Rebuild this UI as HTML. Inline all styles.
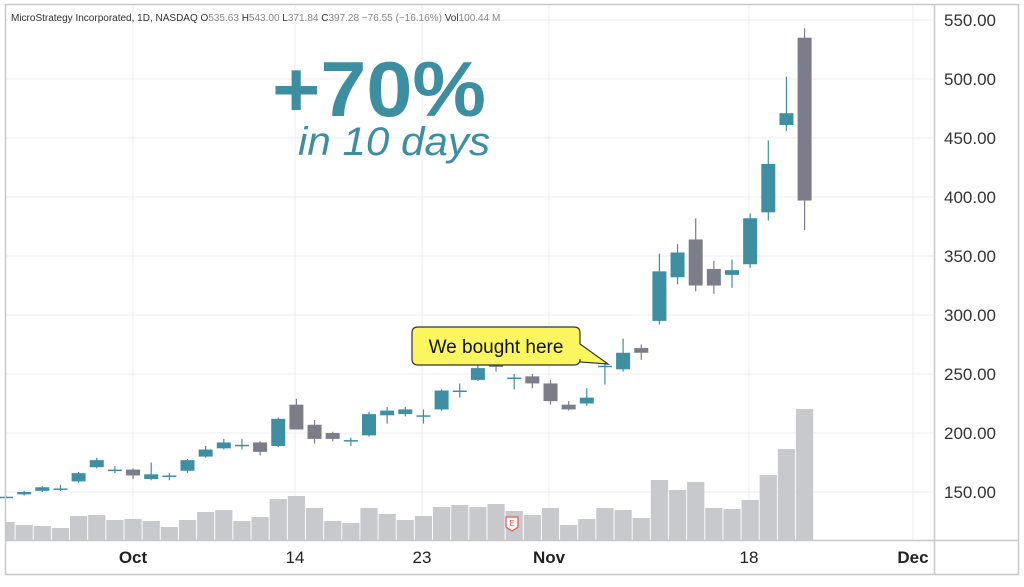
<!DOCTYPE html>
<html><head><meta charset="utf-8"><style>
html,body{margin:0;padding:0;background:#fff;}
body{width:1024px;height:582px;overflow:hidden;font-family:"Liberation Sans",sans-serif;}
</style></head><body>
<svg id="s" width="1024" height="582" xmlns="http://www.w3.org/2000/svg" font-family="Liberation Sans, sans-serif">
<rect x="0" y="0" width="1024" height="582" fill="#fff"/>
<g id="grid" stroke="#ececec" stroke-width="1"></g>
<g id="vol"></g>
<g id="cdl"></g>
<rect x="5.5" y="4.5" width="1013" height="570" fill="none" stroke="#c8c8c8" stroke-width="1.5"/>
<line x1="934.5" y1="4" x2="934.5" y2="575" stroke="#c8c8c8" stroke-width="1.5"/>
<line x1="6" y1="540.5" x2="1018" y2="540.5" stroke="#c8c8c8" stroke-width="1.5"/>
<text x="11" y="21" font-size="10" fill="#333">MicroStrategy Incorporated, 1D, NASDAQ  <tspan fill="#333">O</tspan><tspan fill="#888">535.63</tspan>  <tspan fill="#333">H</tspan><tspan fill="#888">543.00</tspan>  <tspan fill="#333">L</tspan><tspan fill="#888">371.84</tspan>  <tspan fill="#333">C</tspan><tspan fill="#888">397.28</tspan>  <tspan fill="#888">−76.55 (−16.16%)</tspan>  <tspan fill="#333">Vol</tspan><tspan fill="#888">100.44 M</tspan></text>
<text x="272" y="116" font-size="78" font-weight="bold" fill="#3d8ea0" textLength="214" lengthAdjust="spacingAndGlyphs">+70%</text>
<text x="298" y="155" font-size="40" font-style="italic" fill="#3d8ea0" textLength="192" lengthAdjust="spacingAndGlyphs">in 10 days</text>
<g id="ylab" font-size="17" fill="#333"></g>
<g font-size="17" fill="#222" text-anchor="middle">
<text x="133" y="563" font-weight="bold">Oct</text>
<text x="295" y="563">14</text>
<text x="422" y="563">23</text>
<text x="549" y="563" font-weight="bold">Nov</text>
<text x="749" y="563">18</text>
<text x="913" y="563" font-weight="bold">Dec</text>
</g>
<g transform="translate(512,523)"><path d="M-6,-6 H6 V4 L0,8 L-6,4 Z" fill="#fff" stroke="#e05a5a" stroke-width="1.3"/><text x="0" y="3" font-size="8" fill="#e05a5a" text-anchor="middle">E</text></g>
<path d="M418,327 H574 Q580,327 580,333 V344 L608,364 L580,362 V359 Q580,365 574,365 H418 Q412,365 412,359 V333 Q412,327 418,327 Z" fill="#fbf560" stroke="#333" stroke-width="1.2"/>
<text x="496" y="353" font-size="19" fill="#111" text-anchor="middle">We bought here</text>
</svg>
<script>
var NS="http://www.w3.org/2000/svg";
function el(p,t,a){var e=document.createElementNS(NS,t);for(var k in a)e.setAttribute(k,a[k]);p.appendChild(e);return e;}
function Y(p){return 20+(550-p)*1.18;}
var g=document.getElementById('grid'),yl=document.getElementById('ylab');
for(var p=150;p<=550;p+=50){var y=Y(p);el(g,'line',{x1:6,x2:935,y1:y,y2:y});var t=el(yl,'text',{x:944,y:y+6});t.textContent=p.toFixed(2);}
[133,295,422,549,749,913].forEach(function(x){el(g,'line',{x1:x,x2:x,y1:5,y2:540});});
var vol=[522,525,526,528,516,515,520,519,521,527,520,512,510,521,517,499,496,508,521,523,508,514,520,516,507,505,507,504,511,515,508,525,519,508,510,518,480,490,482,508,509,500,475,449,409];
var d=[[146,147,145,146],[148,151,147,150],[151,155,150,154],[153,156,151,153],[159,167,158,166],[171,179,170,177],[169,172,166,169],[169,170,161,164],[161,175,160,165],[164,166,160,164],[168,178,166,177],[180,189,179,186],[187,195,186,192],[190,195,186,190],[192,193,181,184],[189,213,188,212],[224,229,203,203],[207,211,191,195],[200,201,193,195],[194,196,189,194],[198,218,197,216],[215,222,208,219],[216,222,214,220],[215,220,208,215],[220,237,219,236],[236,242,230,236],[245,262,244,255],[258,266,252,256],[247,250,237,247],[248,250,238,242],[242,245,224,227],[224,227,219,220],[225,238,223,230],[257,260,241,257],[254,280,252,268],[272,275,262,268],[295,352,292,337],[332,360,326,353],[364,382,320,325],[339,346,318,325],[334,347,323,338],[343,386,340,382],[387,448,380,428],[461,502,456,471],[535,543,372,397]];
var vg=document.getElementById('vol'),cg=document.getElementById('cdl');
for(var i=0;i<45;i++){var x=6+18.15*i;
 var x0=Math.max(6,x-8.6);el(vg,'rect',{x:x0,y:vol[i],width:(x+8.6)-x0,height:540-vol[i],fill:'#c7c9cd'});
 var o=d[i][0],h=d[i][1],l=d[i][2],c=d[i][3];var col=c>=o?'#3f8fa3':'#7b7e88';
 el(cg,'line',{x1:x,x2:x,y1:Y(h),y2:Y(l),stroke:col,'stroke-width':1.2});
 var t=Y(Math.max(o,c)),b=Y(Math.min(o,c));if(b-t<1.5){b=t+1.5;}
 el(cg,'rect',{x:x-7,y:t,width:14,height:b-t,fill:col});
}
</script>
</body></html>
